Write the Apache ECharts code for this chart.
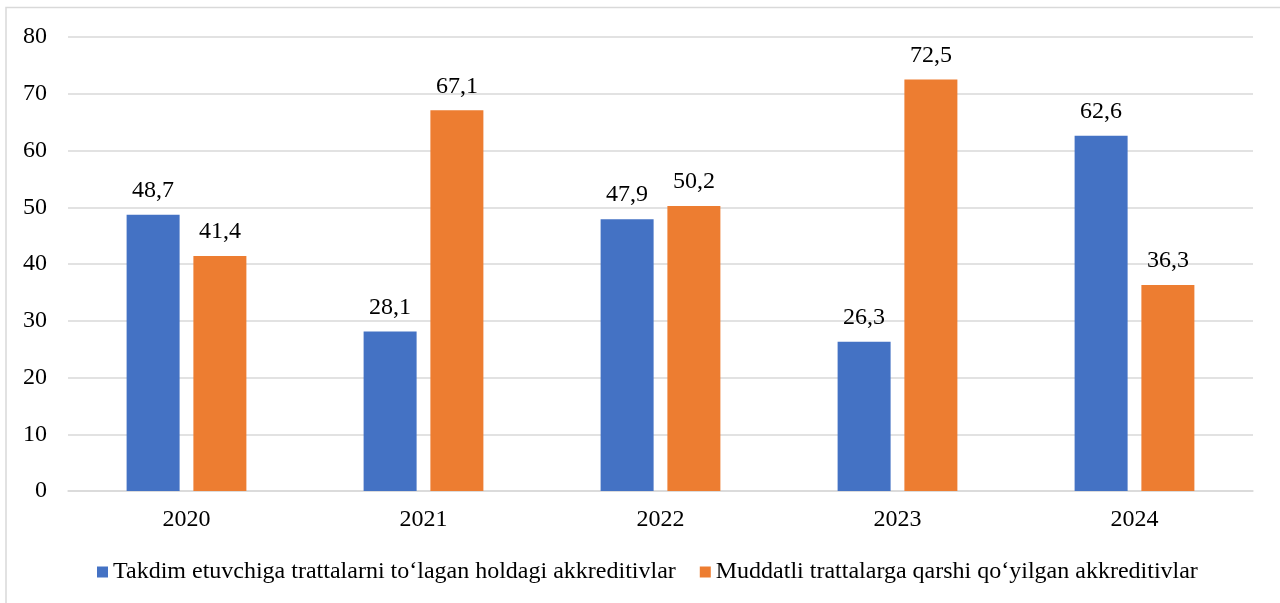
<!DOCTYPE html>
<html>
<head>
<meta charset="utf-8">
<script src="https://cdn.jsdelivr.net/npm/echarts@6/dist/echarts.min.js"></script>
<style>
html,body{margin:0;padding:0;background:#fff;}
#c{width:1280px;height:603px;}
</style>
</head>
<body>
<div id="c"></div>
<script>
const categories = ['2020', '2021', '2022', '2023', '2024'];
const seriesNames = ['Takdim etuvchiga trattalarni to‘lagan holdagi akkreditivlar', 'Muddatli trattalarga qarshi qo‘yilgan akkreditivlar'];
const seriesA = [48.7, 28.1, 47.9, 26.3, 62.6];
const seriesB = [41.4, 67.1, 50.2, 72.5, 36.3];
const yTicks = {min: 0, max: 80, interval: 10};

const font = '"Liberation Serif", "Times New Roman", serif';
const chart = echarts.init(document.getElementById('c'), null, {renderer: 'canvas'});
const labelFmt = p => String(p.value).replace('.', ',');
chart.setOption({
  animation: false,
  backgroundColor: '#fff',
  graphic: [{
    type: 'rect', shape: {x: 6, y: 7.5, width: 1300, height: 620},
    style: {fill: 'none', stroke: '#d9d9d9', lineWidth: 1.5}, silent: true
  }],
  grid: {left: 68, right: 27, top: 37, bottom: 112, containLabel: false},
  legend: {
    bottom: 14, left: 92, itemWidth: 11, itemHeight: 11, itemGap: 24,
    icon: 'rect',
    textStyle: {fontFamily: font, fontSize: 24, color: '#000'},
    data: seriesNames
  },
  xAxis: {
    type: 'category', data: categories,
    axisLine: {lineStyle: {color: '#d9d9d9', width: 1.5}},
    axisTick: {show: false},
    axisLabel: {fontFamily: font, fontSize: 24, color: '#000', margin: 17}
  },
  yAxis: {
    type: 'value', min: yTicks.min, max: yTicks.max, interval: yTicks.interval,
    axisLine: {show: false}, axisTick: {show: false},
    axisLabel: {fontFamily: font, fontSize: 24, color: '#000', margin: 21},
    splitLine: {lineStyle: {color: '#d9d9d9', width: 1.5}}
  },
  series: [
    {
      name: seriesNames[0], type: 'bar', data: seriesA, barWidth: 53, barGap: '26%',
      itemStyle: {color: '#4472c4'},
      label: {show: true, position: 'top', distance: 12, fontFamily: font, fontSize: 24, color: '#000', formatter: labelFmt}
    },
    {
      name: seriesNames[1], type: 'bar', data: seriesB, barWidth: 53,
      itemStyle: {color: '#ed7d31'},
      label: {show: true, position: 'top', distance: 12, fontFamily: font, fontSize: 24, color: '#000', formatter: labelFmt}
    }
  ]
});
</script>
</body>
</html>
